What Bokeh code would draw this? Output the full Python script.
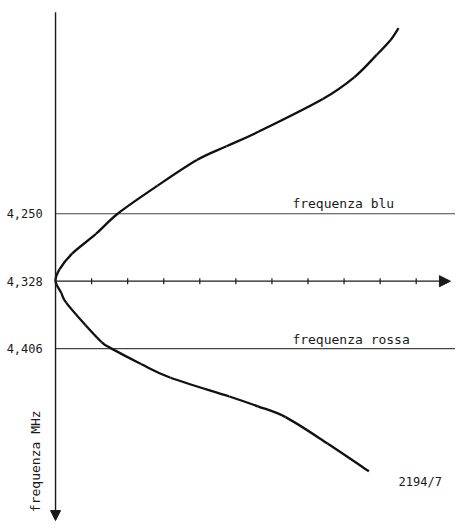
from bokeh.plotting import figure
from bokeh.models import Range1d, Arrow, NormalHead
from bokeh.core.properties import value
from bokeh.embed import file_html
from bokeh.resources import INLINE

# ---- data ----
# curve: abscissa (arbitrary units, one unit per tick) vs frequency (MHz)
curve_x = [9.51, 9.29, 8.91, 8.28, 7.41, 5.64, 4.74, 3.92, 2.83, 1.74, 1.12,
           0.46, 0.11, 0.0, 0.16, 0.30, 0.84, 1.28, 1.53, 2.37, 3.19, 4.82,
           5.61, 6.38, 7.55, 8.69]
curve_freq = [4.0353, 4.0490, 4.0660, 4.0922, 4.1173, 4.1549, 4.1720, 4.1879,
              4.2175, 4.2494, 4.2733, 4.2961, 4.3143, 4.3280, 4.3417, 4.3531,
              4.3793, 4.3986, 4.4054, 4.4237, 4.4396, 4.4613, 4.4727, 4.4852,
              4.5159, 4.5478]

y_ticks = [4.250, 4.328, 4.406]
y_tick_labels = ["4,250", "4,328", "4,406"]
x_ticks = [1, 2, 3, 4, 5, 6, 7, 8, 9, 10]

blue_freq = 4.250
red_freq = 4.406
center_freq = 4.328
labels = ["frequenza blu", "frequenza rossa"]
axis_title = "frequenza  MHz"
fig_id = "2194/7"

FONT = value("DejaVu Sans Mono")
INK = "#1a1a1a"

# ---- smooth rendering of the read points (Catmull-Rom -> cubic Bezier) ----
n = len(curve_x)
bx0, by0, bx1, by1, cx0, cy0, cx1, cy1 = ([] for _ in range(8))
for i in range(n - 1):
    p0 = (curve_x[max(i - 1, 0)], curve_freq[max(i - 1, 0)])
    p1 = (curve_x[i], curve_freq[i])
    p2 = (curve_x[i + 1], curve_freq[i + 1])
    p3 = (curve_x[min(i + 2, n - 1)], curve_freq[min(i + 2, n - 1)])
    bx0.append(p1[0]); by0.append(p1[1])
    bx1.append(p2[0]); by1.append(p2[1])
    cx0.append(p1[0] + (p2[0] - p0[0]) / 6); cy0.append(p1[1] + (p2[1] - p0[1]) / 6)
    cx1.append(p2[0] - (p3[0] - p1[0]) / 6); cy1.append(p2[1] - (p3[1] - p1[1]) / 6)

# ---- figure ----
p = figure(width=455, height=522, output_backend="svg", toolbar_location=None,
           x_range=Range1d(-1.526, 11.09), y_range=Range1d(4.60704, 4.0034),
           min_border=0, outline_line_color=None)
p.axis.visible = False
p.grid.visible = False
p.background_fill_color = "white"
p.border_fill_color = "white"

x_lo, x_hi = 0.0, 11.09

# horizontal reference lines (blue / red frequency)
p.segment(x0=[x_lo, x_lo], y0=[blue_freq, red_freq], x1=[x_hi, x_hi],
          y1=[blue_freq, red_freq], line_color="#444444", line_width=1.2)

# horizontal arrow at centre frequency
p.add_layout(Arrow(x_start=0.0, y_start=center_freq, x_end=10.95, y_end=center_freq,
                   line_color=INK, line_width=1.2,
                   end=NormalHead(size=11, fill_color=INK, line_color=INK)))
tick_half = 0.0034
p.segment(x0=x_ticks, y0=[center_freq - tick_half] * len(x_ticks),
          x1=x_ticks, y1=[center_freq + tick_half] * len(x_ticks),
          line_color=INK, line_width=1.2)

# vertical frequency axis with arrow pointing down
p.add_layout(Arrow(x_start=0.0, y_start=4.0171, x_end=0.0, y_end=4.6048,
                   line_color=INK, line_width=1.4,
                   end=NormalHead(size=10, fill_color=INK, line_color=INK)))

# curve
p.bezier(x0=bx0, y0=by0, x1=bx1, y1=by1, cx0=cx0, cy0=cy0, cx1=cx1, cy1=cy1,
         line_color="#111111", line_width=2.3)

# tick labels
p.text(x=[-0.354] * len(y_ticks), y=y_ticks, text=y_tick_labels,
       text_align="right", text_baseline="middle", text_font=FONT,
       text_font_size="12px", text_color=INK)

# axis title (rotated)
p.text(x=[-0.545], y=[4.5317], text=[axis_title], angle=1.5708,
       text_align="center", text_baseline="middle", text_font=FONT,
       text_font_size="13px", text_color=INK)

# line labels
p.text(x=[6.567, 6.567], y=[4.2380, 4.3952], text=labels,
       text_align="left", text_baseline="alphabetic", text_font=FONT,
       text_font_size="13px", text_color=INK)

# figure id
p.text(x=[9.51], y=[4.5604], text=[fig_id], text_align="left",
       text_baseline="middle", text_font=FONT, text_font_size="12px",
       text_color=INK)

open("out.html", "w").write(file_html(p, INLINE))
